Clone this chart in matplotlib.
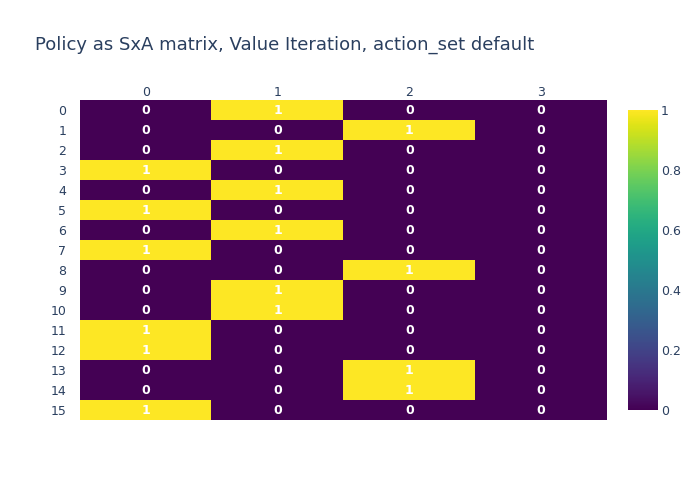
import numpy as np
import matplotlib.pyplot as plt
from matplotlib.colors import Normalize

# policy matrix: rows = states, cols = actions
states = list(range(16))
actions = list(range(4))
best_action = [1, 2, 1, 0, 1, 0, 1, 0, 2, 1, 1, 0, 0, 2, 2, 0]

policy = np.zeros((len(states), len(actions)), dtype=int)
for s, a in zip(states, best_action):
    policy[s, a] = 1

txt = "#2a3f5f"
fig = plt.figure(figsize=(7, 5), dpi=100)
ax = fig.add_axes([80 / 700, 80 / 500, 527 / 700, 320 / 500])
norm = Normalize(0, 1)
im = ax.imshow(policy, cmap="viridis", norm=norm, aspect="auto", interpolation="nearest")

for i in range(policy.shape[0]):
    for j in range(policy.shape[1]):
        ax.text(j, i, str(policy[i, j]), ha="center", va="center",
                color="white", fontsize=9, fontweight="bold")

ax.xaxis.tick_top()
ax.set_xticks(actions)
ax.set_xticklabels([str(a) for a in actions])
ax.set_yticks(states)
ax.set_yticklabels([str(s) for s in states])
ax.tick_params(axis="x", length=0, colors=txt, labelsize=9, pad=1)
ax.tick_params(axis="y", length=0, colors=txt, labelsize=9, pad=10)
for sp in ax.spines.values():
    sp.set_visible(False)

cax = fig.add_axes([628 / 700, 90 / 500, 30 / 700, 300 / 500])
cb = fig.colorbar(im, cax=cax, ticks=[0, 0.2, 0.4, 0.6, 0.8, 1])
cb.ax.set_yticklabels(["0", "0.2", "0.4", "0.6", "0.8", "1"])
cb.ax.tick_params(length=0, colors=txt, labelsize=9, pad=2)
cb.outline.set_visible(False)

fig.text(35 / 700, 1 - 45 / 500, "Policy as SxA matrix, Value Iteration, action_set default",
         fontsize=13, color=txt, va="center", ha="left")

fig.savefig("out.png", dpi=100)
